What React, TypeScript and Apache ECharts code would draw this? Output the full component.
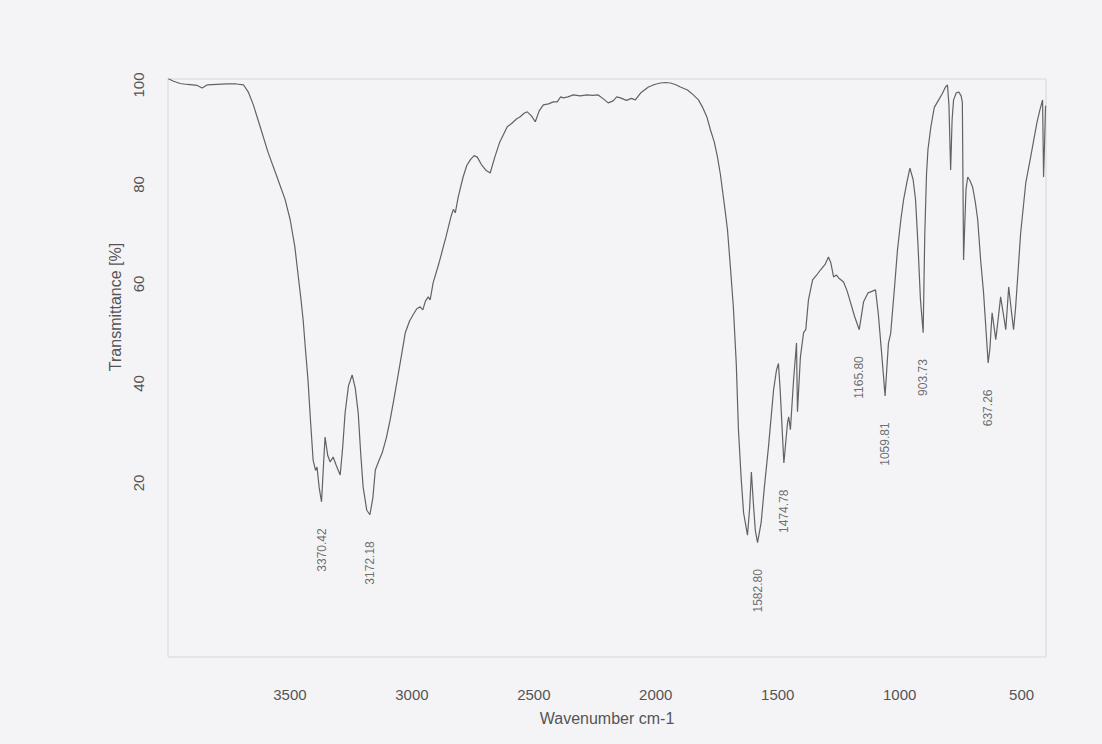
import React, { useEffect, useRef } from "react";
import * as echarts from "echarts";

// Infrared spectrum: wavenumber (cm-1) against transmittance (%)
const baseWavenumbers = [
  4000, 3980, 3950, 3920, 3880, 3860, 3840, 3800, 3760, 3720, 3690, 3670, 3650, 3622, 3590,
  3553, 3520, 3499, 3480, 3467, 3455, 3446, 3435, 3426, 3415, 3405, 3395, 3389, 3380,
  3362, 3356, 3345, 3335, 3323, 3310, 3294, 3284, 3274, 3260, 3245, 3232, 3220, 3210,
  3200, 3185, 3160, 3150, 3135, 3122, 3105, 3089, 3075, 3060, 3045, 3027, 3010, 2995,
  2980, 2966, 2955, 2945, 2933, 2925, 2913, 2890, 2860, 2840, 2830, 2822, 2810, 2790,
  2775, 2760, 2745, 2732, 2715, 2695, 2679, 2660, 2640, 2620, 2609, 2590, 2570, 2556,
  2540, 2527, 2510, 2494, 2478, 2461, 2440, 2420, 2404, 2390, 2379, 2360, 2338, 2310,
  2281, 2260, 2236, 2215, 2195, 2175, 2160, 2145, 2120, 2100, 2084, 2060, 2030, 2005,
  1981, 1960, 1940, 1920, 1899, 1870, 1846, 1825, 1809, 1790, 1776, 1760, 1747, 1735,
  1723, 1715, 1706, 1695, 1682, 1670, 1661, 1650, 1640, 1624, 1615, 1608, 1600, 1592,
  1568, 1555, 1538, 1517, 1505, 1497, 1490, 1460, 1455, 1448, 1435, 1423, 1419,
  1407, 1394, 1385, 1374, 1357, 1340, 1325, 1305, 1292, 1282, 1271, 1260, 1250, 1230,
  1215, 1201, 1185, 1148, 1130, 1119, 1099, 1088, 1075, 1046, 1037, 1020, 1009,
  995, 984, 970, 958, 945, 935, 925, 915, 897, 890, 884, 872, 858, 840, 825, 812, 804,
  798, 791, 785, 779, 768, 758, 748, 743, 738, 733, 728, 721, 712, 701, 690, 680, 668,
  656, 645, 630, 621, 612, 606, 596, 586, 575, 565, 559, 553, 543, 533, 525, 516, 504,
  483, 463, 450, 437, 425, 414, 410, 406, 402, 400,
];

const baseTransmittance = [
  101.3, 100.8, 100.3, 100.1, 99.9, 99.4, 100.0, 100.1, 100.2, 100.2, 100.0, 98.5, 96, 91.6, 86.5,
  81.5, 77, 72.9, 67.5, 62, 57, 52.8, 46, 40.7, 32, 24.6, 22.5, 23.2, 19,
  24, 29.2, 25.5, 24.2, 25.2, 23.5, 21.6, 27, 34, 39.5, 41.7, 39, 34, 26,
  19.2, 14.5, 17, 22.6, 24.5, 26, 29, 32.7, 36.5, 40.7, 45, 50.2, 52.5, 53.8,
  55, 55.4, 54.8, 56.5, 57.4, 56.8, 60.2, 64, 69.5, 73.5, 75, 74.3, 77.5, 81.5,
  83.8, 85, 85.8, 85.5, 84, 82.8, 82.3, 85.5, 88.5, 90.5, 91.6, 92.3, 93.2, 93.6,
  94.3, 94.6, 93.8, 92.6, 94.8, 96, 96.2, 96.6, 96.6, 97.6, 97.4, 97.6, 98, 97.8,
  98, 97.9, 98, 97.2, 96.4, 96.8, 97.6, 97.4, 96.9, 97.3, 97, 98.5, 99.6, 100.1,
  100.4, 100.5, 100.4, 100.1, 99.6, 99, 98, 97, 95.6, 93.5, 91, 88.5, 85.5, 82,
  77.5, 74.5, 70.9, 64, 55.4, 44, 30.7, 21, 14, 9.5, 15, 22.2, 16, 10.5,
  12, 19, 27.2, 38.7, 42.7, 44, 38.7, 32, 33.3, 30.7, 40.7, 48.1, 34.3,
  45.3, 50.2, 50.8, 56.8, 60.8, 61.8, 62.8, 64, 65.4, 64.2, 61.4, 61.8, 61.2, 60.4,
  58.5, 56.2, 53.5, 56.4, 58.2, 58.4, 58.8, 54.2, 46.7, 48.1, 50, 60, 66.8,
  73, 76.9, 80.5, 83.3, 81, 77, 68, 57, 70, 82, 87, 91.6, 95.5, 97, 98.3, 99.6, 100,
  96, 82.9, 93, 97, 98.4, 98.6, 97.8, 96.5, 64.8, 72, 79, 81.5, 80.8, 79.5, 76.5, 72.9, 64.8,
  58.2, 50, 47, 54.2, 51, 48.8, 53, 57.4, 54, 50.8, 55, 59.4, 55, 50.8, 55, 61.4, 70.2,
  80.3, 85.5, 89, 92.5, 95, 97, 81.5, 88, 95.6, 95.8,
];

// Labelled absorption bands
const peakWavenumbers = [3370.42, 3172.18, 1582.8, 1474.78, 1165.8, 1059.81, 903.73, 637.26];
const peakTransmittance = [16.2, 13.6, 8.0, 24.0, 50.8, 37.5, 50.2, 44.1];

const xTickLabels = [3500, 3000, 2500, 2000, 1500, 1000, 500];
const yTickLabels = [20, 40, 60, 80, 100];

const FONT = "'Liberation Sans', Arial, sans-serif";
const TEXT = "#545456";

export default function App() {
  const ref = useRef<HTMLDivElement>(null);

  useEffect(() => {
    if (!ref.current) return;
    const chart = echarts.init(ref.current, undefined, { renderer: "svg" });

    const spectrum: [number, number][] = baseWavenumbers.map((w, i) => [w, baseTransmittance[i]]);
    peakWavenumbers.forEach((w, i) => spectrum.push([w, peakTransmittance[i]]));
    spectrum.sort((a, b) => b[0] - a[0]);

    chart.setOption({
      animation: false,
      backgroundColor: "#f4f4f6",
      textStyle: { fontFamily: FONT },
      grid: {
        left: 168,
        right: 56,
        top: 79,
        bottom: 87,
        show: true,
        borderColor: "#d6d6d8",
        borderWidth: 1,
        backgroundColor: "transparent",
      },
      xAxis: {
        type: "value",
        inverse: true,
        min: 400,
        max: 4000,
        interval: 100,
        axisLine: { show: false },
        axisTick: { show: false },
        splitLine: { show: false },
        axisLabel: {
          margin: 30,
          fontSize: 15,
          color: TEXT,
          fontFamily: FONT,
          formatter: (v: number) => (xTickLabels.includes(v) ? String(v) : ""),
        },
        name: "Wavenumber cm-1",
        nameLocation: "middle",
        nameGap: 53,
        nameTextStyle: { fontSize: 16, color: TEXT, fontFamily: FONT },
      },
      yAxis: {
        type: "value",
        min: -15,
        max: 101.2,
        axisLine: { show: false },
        axisTick: { show: false },
        splitLine: { show: false },
        axisLabel: {
          rotate: 90,
          margin: 22,
          fontSize: 15,
          color: TEXT,
          fontFamily: FONT,
          formatter: (v: number) => (yTickLabels.includes(v) ? String(v) : ""),
        },
      },
      graphic: [
        {
          type: "text",
          x: 115,
          y: 307,
          rotation: Math.PI / 2,
          style: {
            text: "Transmittance [%]",
            fontSize: 16,
            fontFamily: FONT,
            fill: TEXT,
            align: "center",
            verticalAlign: "middle",
          },
        },
      ],
      series: [
        {
          type: "line",
          data: spectrum,
          showSymbol: false,
          symbol: "none",
          lineStyle: { color: "#626264", width: 1.2 },
          z: 2,
        },
        {
          type: "scatter",
          data: peakWavenumbers.map((w, i) => [w, peakTransmittance[i]]),
          symbolSize: 1,
          itemStyle: { color: "transparent" },
          label: {
            show: true,
            position: "bottom",
            distance: 26,
            rotate: 90,
            align: "right",
            verticalAlign: "middle",
            fontSize: 12,
            color: "#4a4a4c",
            fontFamily: FONT,
            formatter: (p: any) => p.value[0].toFixed(2),
          },
          z: 3,
        },
      ],
    });

    return () => chart.dispose();
  }, []);

  return (
    <div
      ref={ref}
      style={{ position: "fixed", left: 0, top: 0, width: 1102, height: 744, background: "#f4f4f6" }}
    />
  );
}
